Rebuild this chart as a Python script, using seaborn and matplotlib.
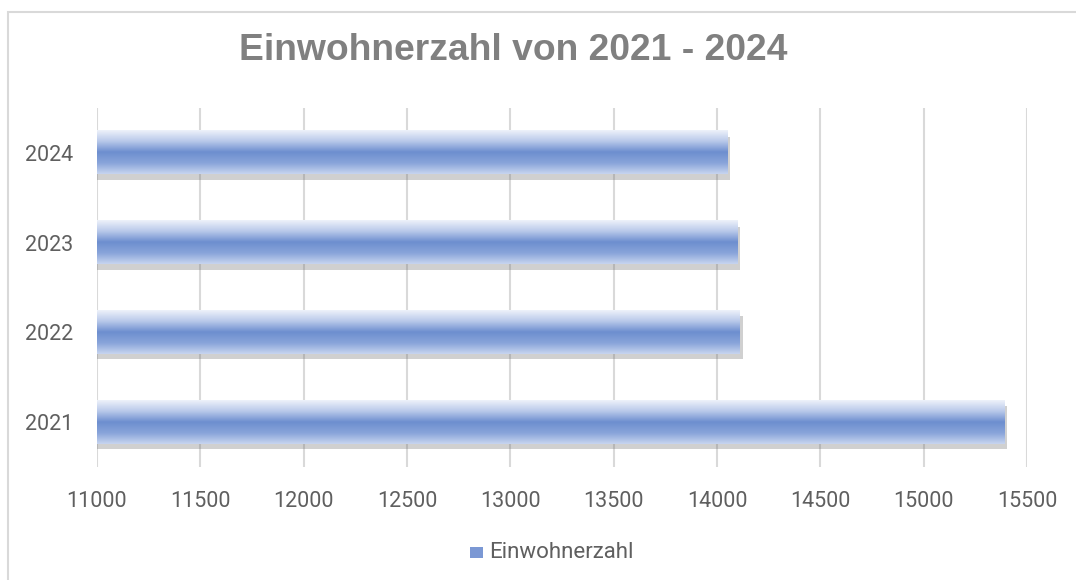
import numpy as np
import pandas as pd
import seaborn as sns
import matplotlib.pyplot as plt
import matplotlib.patheffects as pe
from matplotlib.colors import LinearSegmentedColormap
from matplotlib.patches import Rectangle

# ---- data ----
years = ['2024', '2023', '2022', '2021']
einwohner = [14050, 14100, 14110, 15390]
x_ticks = [11000, 11500, 12000, 12500, 13000, 13500, 14000, 14500, 15000, 15500]

df = pd.DataFrame({'Jahr': years, 'Einwohnerzahl': einwohner})

sns.set_theme(style='white')
plt.rcParams['font.family'] = ['Roboto', 'DejaVu Sans']

fig = plt.figure(figsize=(10.76, 5.8), dpi=100)
ax = fig.add_axes([97 / 1076, 1 - 467 / 580, 930 / 1076, 359 / 580])

# outer chart frame (Excel style)
fig.patches.append(Rectangle((8 / 1076, -0.1), 1.2, (580 - 12) / 580 + 0.1,
                             transform=fig.transFigure, fill=False,
                             edgecolor='#d9d9d9', linewidth=1.5, zorder=0))

sns.barplot(data=df, x='Einwohnerzahl', y='Jahr', orient='h', width=0.48,
            color='#6f8fd0', ax=ax, zorder=3)

x_min, x_max = 11000, 15500
ax.set_xlim(x_min, x_max)
ax.set_ylim(3.5, -0.5)

# gradient fill light -> blue -> light, plus soft shadow
grad = LinearSegmentedColormap.from_list(
    'bar', ['#eef2fa', '#b9c9ea', '#6d8ecf', '#89a4da', '#c7d5ef'])
g = np.linspace(0, 1, 256).reshape(-1, 1)
for p in ax.patches:
    p.set_path_effects([pe.SimplePatchShadow(offset=(2, -4), shadow_rgbFace='#666666', alpha=0.3),
                        pe.Normal()])
    p.set_edgecolor('none')
    y0, h = p.get_y(), p.get_height()
    x1 = p.get_x() + p.get_width()
    ax.imshow(g, cmap=grad, aspect='auto', extent=(x_min, x1, y0 + h, y0),
              zorder=4, interpolation='bilinear')

ax.set_xlim(x_min, x_max)
ax.set_ylim(3.5, -0.5)
ax.set_xticks(x_ticks)
ax.set_xticklabels([str(t) for t in x_ticks])
ax.grid(axis='x', color='#d9d9d9', linewidth=1.5, zorder=0)
ax.grid(axis='y', visible=False)
sns.despine(ax=ax, left=True, bottom=True)
ax.tick_params(axis='both', length=0, labelsize=15.5, labelcolor='#5f5f5f')
ax.tick_params(axis='y', pad=17)
ax.tick_params(axis='x', pad=17)
ax.set_xlabel('')
ax.set_ylabel('')

fig.text(513 / 1076, 1 - 50 / 580, 'Einwohnerzahl von 2021 - 2024',
         ha='center', va='center', fontsize=26.8, fontweight='bold',
         color='#808080', family=['Liberation Sans', 'DejaVu Sans'])

# legend
fig.patches.append(Rectangle((470 / 1076, 1 - 558 / 580), 13 / 1076, 11 / 580,
                             transform=fig.transFigure, facecolor='#7b98d4',
                             edgecolor='none'))
fig.text(489 / 1076, 1 - 552 / 580, 'Einwohnerzahl', ha='left', va='center',
         fontsize=16, color='#5f5f5f')

plt.savefig('out.png', dpi=100)
